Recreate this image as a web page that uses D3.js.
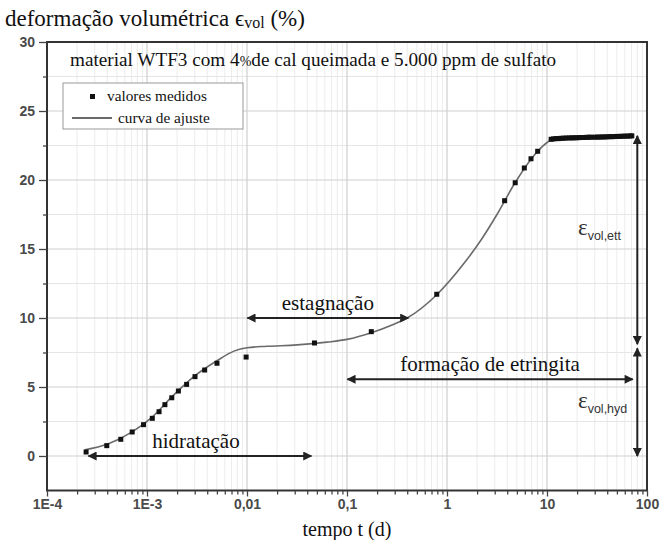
<!DOCTYPE html>
<html>
<head>
<meta charset="utf-8">
<script src="https://d3js.org/d3.v7.min.js"></script>
<style>
  body { margin: 0; background: #fff; }
  svg { display: block; }
  .serif { font-family: "Liberation Serif", "Times New Roman", serif; fill: #111; }
  .tick text { font-family: "Liberation Sans", Arial, sans-serif; font-size: 14px; fill: #4a4a4a; }
</style>
</head>
<body>
<svg width="662" height="540"></svg>
<script>

// measured points (tempo t in days, deformacao in %)
var medT = [2.46e-4, 3.96e-4, 5.47e-4, 7.11e-4, 9.23e-4, 1.13e-3, 1.32e-3, 1.51e-3, 1.77e-3, 2.06e-3,
    2.49e-3, 3.02e-3, 3.77e-3, 5.01e-3, 9.8e-3, 0.0473, 0.175, 0.79, 3.77, 4.81, 5.93, 6.92, 8.07,
    11.0, 11.6, 12.3, 13.0, 13.8, 14.6, 15.5,
    16.6, 17.6, 18.6, 19.7, 20.9, 22.1, 23.4, 24.8, 26.3, 27.8,
    30.2, 32.0, 33.9, 35.9, 38.0, 40.3, 42.7, 45.2, 47.9, 50.7, 53.7, 56.9, 60.3, 63.9, 67.7, 70.5];
var medV = [0.29, 0.75, 1.21, 1.74, 2.27, 2.73, 3.21, 3.72, 4.22, 4.71,
    5.19, 5.75, 6.23, 6.72, 7.17, 8.19, 9.01, 11.72, 18.5, 19.8, 20.87, 21.54, 22.08,
    22.95, 22.98, 23.0, 23.0, 23.02, 23.03, 23.04,
    23.05, 23.05, 23.06, 23.06, 23.07, 23.08, 23.08, 23.09, 23.1, 23.1,
    23.1, 23.11, 23.11, 23.12, 23.12, 23.13, 23.14, 23.14, 23.15, 23.16, 23.16, 23.17, 23.18, 23.18, 23.19, 23.2];

// fitted curve
var fitT = [2.4e-4, 4.0e-4, 7.1e-4, 1.12e-3, 1.78e-3, 3.0e-3, 5.0e-3, 7.4e-3, 0.01, 0.0158, 0.0316,
    0.063, 0.1, 0.178, 0.282, 0.4, 0.794, 1.48, 2.19, 3.16, 4.79, 7.08, 8.91, 10.7, 12.6, 31.6, 70.8];
var fitV = [0.45, 0.85, 1.75, 2.8, 4.3, 5.8, 6.9, 7.6, 7.85, 7.95, 8.05,
    8.25, 8.45, 8.95, 9.5, 10.0, 11.7, 13.96, 15.65, 17.5, 19.8, 21.6, 22.4, 22.85, 22.95, 23.08, 23.2];

var xTicks = [1e-4, 1e-3, 1e-2, 1e-1, 1, 10, 100];
var xTickLabels = ["1E-4", "1E-3", "0,01", "0,1", "1", "10", "100"];
var yTicks = [0, 5, 10, 15, 20, 25, 30];
var yMinor = [2.5, 7.5, 12.5, 17.5, 22.5, 27.5];

var svg = d3.select("svg");

var yMin = -2.5;
var x = d3.scaleLog().domain([1e-4, 100]).range([47, 647]);
var y = d3.scaleLinear().domain([yMin, 30]).range([490.5, 42]);

var xMinor = [];
xTicks.slice(0, -1).forEach(function(d) {
    for (var k = 2; k <= 9; k++) xMinor.push(d * k);
});

// grid
var grid = svg.append("g");
grid.selectAll(".vminor").data(xMinor).enter().append("line")
    .attr("x1", x).attr("x2", x).attr("y1", y(yMin)).attr("y2", y(30))
    .attr("stroke", "#ececec").attr("stroke-width", 1);
grid.selectAll(".hminor").data(yMinor).enter().append("line")
    .attr("x1", x(1e-4)).attr("x2", x(100)).attr("y1", y).attr("y2", y)
    .attr("stroke", "#e6e6e6").attr("stroke-width", 1);
grid.selectAll(".vmajor").data(xTicks).enter().append("line")
    .attr("x1", x).attr("x2", x).attr("y1", y(yMin)).attr("y2", y(30))
    .attr("stroke", "#cfcfcf").attr("stroke-width", 1.2);
grid.selectAll(".hmajor").data(yTicks).enter().append("line")
    .attr("x1", x(1e-4)).attr("x2", x(100)).attr("y1", y).attr("y2", y)
    .attr("stroke", "#cfcfcf").attr("stroke-width", 1.2);

// frame
svg.append("rect")
    .attr("x", x(1e-4)).attr("y", y(30))
    .attr("width", x(100) - x(1e-4)).attr("height", y(yMin) - y(30))
    .attr("fill", "none").attr("stroke", "#333").attr("stroke-width", 2);

// axes
svg.append("g")
    .attr("transform", "translate(0," + y(yMin) + ")")
    .call(d3.axisBottom(x).tickValues(xTicks).tickSize(6).tickPadding(3)
        .tickFormat(function(d, i) { return xTickLabels[i]; }));
svg.append("g")
    .attr("transform", "translate(0," + y(yMin) + ")")
    .call(d3.axisBottom(x).tickValues(xMinor).tickSize(4).tickFormat(""));

svg.append("g")
    .attr("transform", "translate(" + x(1e-4) + ",0)")
    .call(d3.axisLeft(y).tickValues(yTicks).tickSize(8).tickPadding(4));
svg.append("g")
    .attr("transform", "translate(" + x(1e-4) + ",0)")
    .call(d3.axisLeft(y).tickValues(yMinor).tickSize(4).tickFormat(""));

svg.selectAll(".domain").remove();
svg.selectAll(".tick line").attr("stroke", "#444").attr("stroke-width", 1.3);
svg.selectAll(".tick text").attr("font-weight", "bold");

// fitted curve
var fitData = fitT.map(function(t, i) { return [t, fitV[i]]; });
var line = d3.line()
    .x(function(d) { return x(d[0]); })
    .y(function(d) { return y(d[1]); })
    .curve(d3.curveMonotoneX);
svg.append("path")
    .datum(fitData)
    .attr("d", line)
    .attr("fill", "none")
    .attr("stroke", "#6a6a6a")
    .attr("stroke-width", 1.6);

// measured points
var medData = medT.map(function(t, i) { return [t, medV[i]]; });
svg.selectAll(".pt").data(medData).enter().append("rect")
    .attr("x", function(d) { return x(d[0]) - 2.5; })
    .attr("y", function(d) { return y(d[1]) - 2.5; })
    .attr("width", 5).attr("height", 5)
    .attr("fill", "#111");

// arrow markers
var defs = svg.append("defs");
defs.append("marker")
    .attr("id", "ah")
    .attr("viewBox", "0 0 10 10")
    .attr("refX", 9).attr("refY", 5)
    .attr("markerWidth", 6).attr("markerHeight", 4.5)
    .attr("markerUnits", "strokeWidth")
    .attr("orient", "auto-start-reverse")
    .append("path").attr("d", "M0,0L10,5L0,10z").attr("fill", "#222");

// horizontal annotations
var spanLabels = ["hidratação", "estagnação", "formação de etringita"];
var spanFrom = [2.6e-4, 0.0101, 0.101];
var spanTo = [0.044, 0.41, 72];
var spanAt = [0, 10, 5.56];

spanLabels.forEach(function(lbl, i) {
    svg.append("line")
        .attr("x1", x(spanFrom[i])).attr("x2", x(spanTo[i]))
        .attr("y1", y(spanAt[i])).attr("y2", y(spanAt[i]))
        .attr("stroke", "#222").attr("stroke-width", 2)
        .attr("marker-start", "url(#ah)").attr("marker-end", "url(#ah)");
    svg.append("text")
        .attr("class", "serif")
        .attr("x", (x(spanFrom[i]) + x(spanTo[i])) / 2 + (i == 0 ? -4 : 0))
        .attr("y", y(spanAt[i]) - 8)
        .attr("text-anchor", "middle")
        .attr("font-size", 21)
        .text(lbl);
});

// vertical annotations
var vertX = 80;
var vertFrom = [8.1, 7.8];
var vertTo = [23.2, 0];
vertFrom.forEach(function(v, i) {
    svg.append("line")
        .attr("x1", x(vertX)).attr("x2", x(vertX))
        .attr("y1", y(v)).attr("y2", y(vertTo[i]))
        .attr("stroke", "#222").attr("stroke-width", 2)
        .attr("marker-start", "url(#ah)").attr("marker-end", "url(#ah)");
});

var epsLabels = ["vol,ett", "vol,hyd"];
var epsAt = [16.0, 3.5];
epsLabels.forEach(function(sub, i) {
    var t = svg.append("text")
        .attr("x", 578).attr("y", y(epsAt[i]))
        .attr("fill", "#333");
    t.append("tspan")
        .attr("font-family", "Liberation Serif, serif")
        .attr("font-size", 23)
        .text("ε");
    t.append("tspan")
        .attr("font-family", "Liberation Sans, Arial, sans-serif")
        .attr("font-size", 12.5)
        .attr("dy", 5)
        .text(sub);
});

// legend
var lg = svg.append("g");
lg.append("rect")
    .attr("x", 63).attr("y", 83).attr("width", 180).attr("height", 46)
    .attr("fill", "#fff").attr("stroke", "#999").attr("stroke-width", 1);
lg.append("rect")
    .attr("x", 90).attr("y", 94).attr("width", 5).attr("height", 5).attr("fill", "#111");
lg.append("text").attr("class", "serif")
    .attr("x", 107).attr("y", 101).attr("font-size", 15.3).text("valores medidos");
lg.append("line")
    .attr("x1", 72).attr("x2", 112).attr("y1", 118).attr("y2", 118)
    .attr("stroke", "#6a6a6a").attr("stroke-width", 1.8);
lg.append("text").attr("class", "serif")
    .attr("x", 118).attr("y", 123).attr("font-size", 15.3).text("curva de ajuste");

// subtitle inside plot
var sub = svg.append("text").attr("class", "serif")
    .attr("x", 70).attr("y", 66).attr("font-size", 19.2);
sub.append("tspan").text("material WTF3 com 4");
sub.append("tspan").attr("font-size", 14).text("%");
sub.append("tspan").text("de cal queimada e 5.000 ppm de sulfato");

// axis titles
var yt = svg.append("text").attr("class", "serif")
    .attr("x", 5).attr("y", 26).attr("font-size", 23);
yt.append("tspan").text("deformação volumétrica ");
yt.append("tspan").text("ϵ");
yt.append("tspan").attr("font-size", 16).attr("dy", 2).text("vol");
yt.append("tspan").attr("dy", -2).text(" (%)");

svg.append("text").attr("class", "serif")
    .attr("x", (x(1e-4) + x(100)) / 2).attr("y", 536)
    .attr("text-anchor", "middle").attr("font-size", 20)
    .text("tempo t (d)");

</script>
</body>
</html>
